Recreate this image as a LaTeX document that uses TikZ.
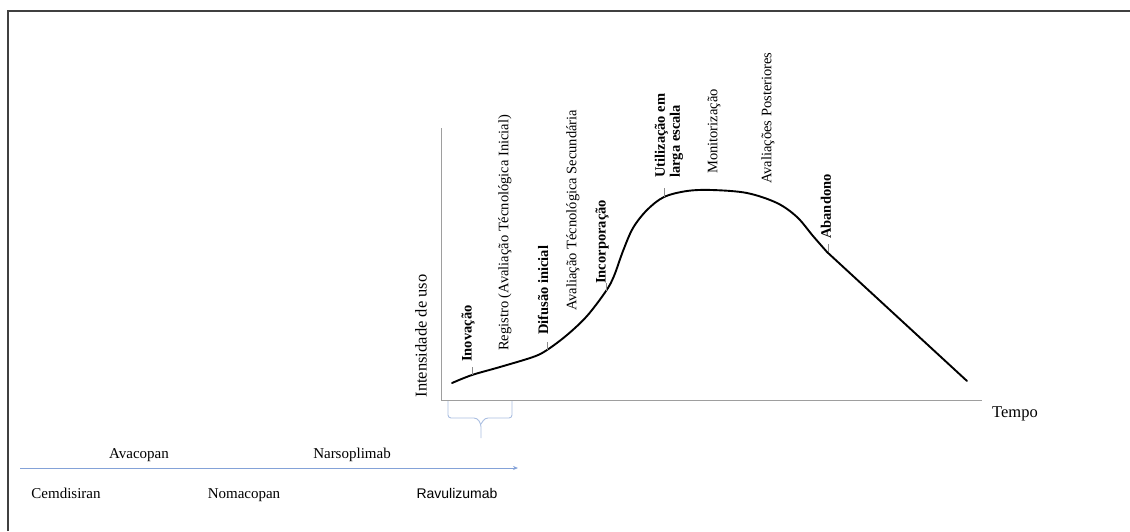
\documentclass[tikz,border=0pt]{standalone}
\usepackage{fontspec}
\setmainfont{Liberation Serif}
\newfontfamily\arialfont{Liberation Sans}
\usetikzlibrary{arrows.meta}
\definecolor{timeblue}{RGB}{132,162,216}
\definecolor{bracegray}{RGB}{170,190,225}

\begin{document}
\begin{tikzpicture}[x=1pt,y=-1pt,
  axisline/.style={draw=black!38,line width=0.9pt},
  curveline/.style={draw=black,line width=1.9pt,line cap=round,line join=round},
  tickline/.style={draw=black!45,line width=0.7pt},
  phase/.style={rotate=90,anchor=west,inner sep=0pt,font=\fontsize{14.5}{15}\selectfont},
  phasebold/.style={phase,font=\fontsize{14.5}{15}\selectfont\bfseries},
  axislabel/.style={inner sep=0pt,font=\fontsize{16.5}{18}\selectfont},
  drug/.style={inner sep=0pt,anchor=base,font=\fontsize{15}{17}\selectfont}]

\useasboundingbox (0,0) rectangle (1130,531);

% outer frame (top and left edges)
\draw[draw=black!75,line width=1.6pt] (8,531) -- (8,11) -- (1130,11);

% axes
\coordinate (ytop) at (441,128);
\coordinate (origin) at (441,400);
\coordinate (xend) at (982,400);
\draw[axisline] (ytop) -- (origin) -- (xend);
\node[axislabel,rotate=90] (ylab) at (421,336) {Intensidade de uso};
\node[axislabel] (xlab) at (1015,414) {Tempo};

% life-cycle curve
\draw[curveline] plot[smooth,tension=0.55] coordinates {
  (452,383) (472,375) (500,367) (533,357) (547,350) (567,335) (587,316)
  (606,291) (614,276) (623,251) (633,228) (647,210) (664,197) (687,191)
  (712,190) (747,193) (777,203) (797,217) (813,236) (827,252)}
  -- (967,381);

% phase markers
\draw[tickline] (472,375) -- (472,367);
\draw[tickline] (547,350) -- (547,342);
\draw[tickline] (606,291) -- (606,283);
\draw[tickline] (664,197) -- (664,188);
\draw[tickline] (828,252) -- (828,244);

% phase labels
\node[phasebold] (inov) at (468,362) {Inovação};
\node[phase] (reg) at (505,351) {Registro (Avaliação Técnológica Inicial)};
\node[phasebold] (dif) at (543,335) {Difusão inicial};
\node[phase] (avsec) at (573,311) {Avaliação Técnológica Secundária};
\node[phasebold] (inc) at (602,284) {Incorporação};
\node[phasebold,align=left] (util) at (669,178) {Utilização em\\larga escala};
\node[phase] (mon) at (714,174) {Monitorização};
\node[phase] (avpost) at (768,184) {Avaliações Posteriores};
\node[phasebold] (aband) at (826,239) {Abandono};

% bracket under the first phases
\draw[draw=bracegray,line width=0.9pt,rounded corners=3pt]
  (448,401) -- (448,418) -- (477,418) -- (481,424) -- (481,438);
\draw[draw=bracegray,line width=0.9pt,rounded corners=3pt]
  (512,401) -- (512,418) -- (485,418) -- (481,424);

% timeline of drugs
\coordinate (tstart) at (20,468);
\coordinate (tend) at (518,468);
\draw[draw=timeblue,line width=0.9pt,-{Stealth[length=5pt,width=4pt]}] (tstart) -- (tend);
\node[drug] (ava) at (139,458) {Avacopan};
\node[drug] (nars) at (352,458) {Narsoplimab};
\node[drug] (cem) at (66,498) {Cemdisiran};
\node[drug] (noma) at (244,498) {Nomacopan};
\node[drug,font=\fontsize{14}{16}\selectfont\arialfont] (ravu) at (457,498) {Ravulizumab};
\end{tikzpicture}
\end{document}
